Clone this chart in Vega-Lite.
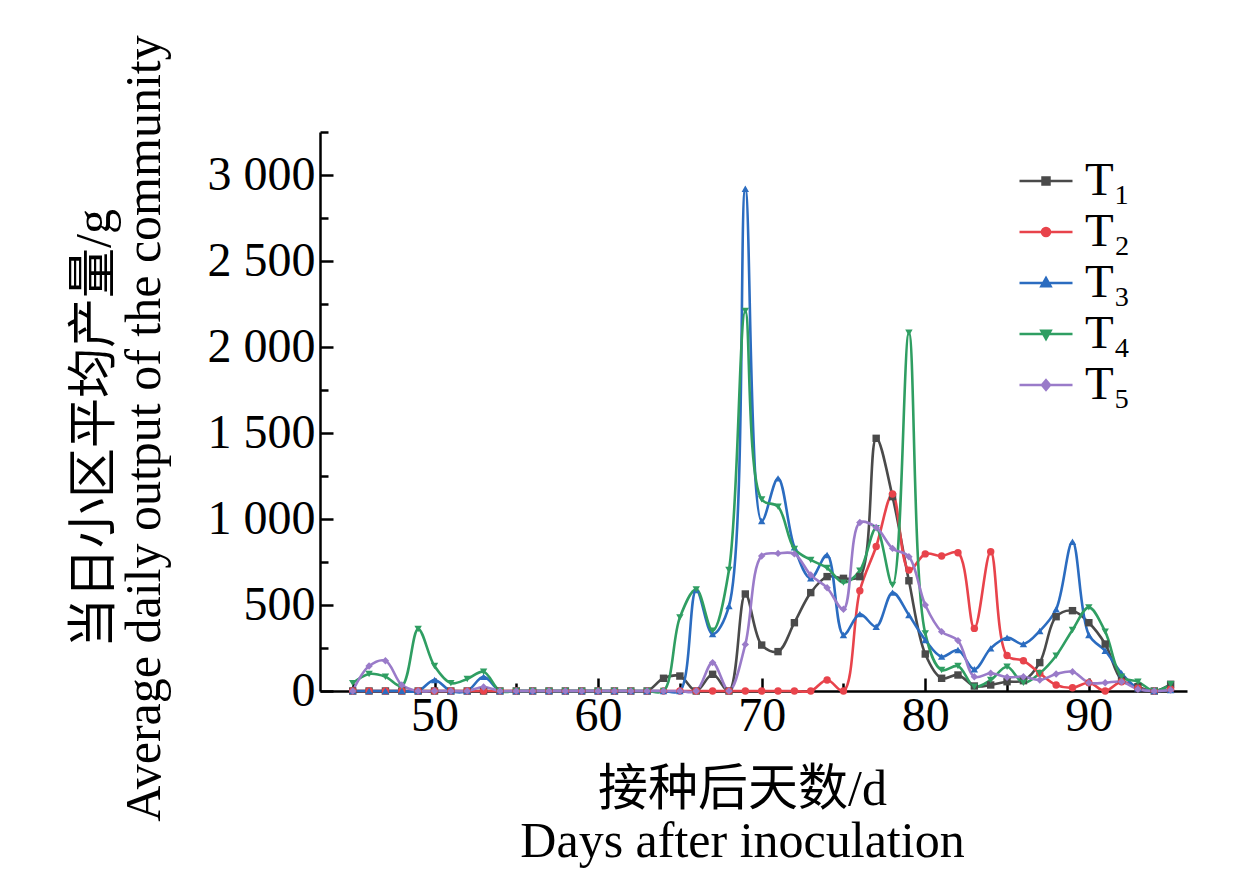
{
"$schema": "https://vega.github.io/schema/vega-lite/v6.json",
"width": 867, "height": 559,
"autosize": {"type": "none"},
"padding": {"left": 320, "top": 132, "right": 73, "bottom": 179},
"background": "white",
"datasets": {"t": [
{"d":45,"s":"T1","v":0},{"d":46,"s":"T1","v":0},{"d":47,"s":"T1","v":0},{"d":48,"s":"T1","v":0},{"d":49,"s":"T1","v":0},{"d":50,"s":"T1","v":0},{"d":51,"s":"T1","v":0},{"d":52,"s":"T1","v":0},{"d":53,"s":"T1","v":0},{"d":54,"s":"T1","v":0},{"d":55,"s":"T1","v":0},{"d":56,"s":"T1","v":0},{"d":57,"s":"T1","v":0},{"d":58,"s":"T1","v":0},{"d":59,"s":"T1","v":0},{"d":60,"s":"T1","v":0},{"d":61,"s":"T1","v":0},{"d":62,"s":"T1","v":0},{"d":63,"s":"T1","v":0},{"d":64,"s":"T1","v":74},{"d":65,"s":"T1","v":87},{"d":66,"s":"T1","v":0},{"d":67,"s":"T1","v":97},{"d":68,"s":"T1","v":0},{"d":69,"s":"T1","v":564},{"d":70,"s":"T1","v":267},{"d":71,"s":"T1","v":229},{"d":72,"s":"T1","v":397},{"d":73,"s":"T1","v":572},{"d":74,"s":"T1","v":665},{"d":75,"s":"T1","v":655},{"d":76,"s":"T1","v":665},{"d":77,"s":"T1","v":1469},{"d":78,"s":"T1","v":1130},{"d":79,"s":"T1","v":641},{"d":80,"s":"T1","v":215},{"d":81,"s":"T1","v":74},{"d":82,"s":"T1","v":93},{"d":83,"s":"T1","v":29},{"d":84,"s":"T1","v":35},{"d":85,"s":"T1","v":54},{"d":86,"s":"T1","v":60},{"d":87,"s":"T1","v":165},{"d":88,"s":"T1","v":432},{"d":89,"s":"T1","v":467},{"d":90,"s":"T1","v":397},{"d":91,"s":"T1","v":273},{"d":92,"s":"T1","v":64},{"d":93,"s":"T1","v":25},{"d":94,"s":"T1","v":0},{"d":95,"s":"T1","v":39},
{"d":45,"s":"T2","v":0},{"d":46,"s":"T2","v":0},{"d":47,"s":"T2","v":0},{"d":48,"s":"T2","v":0},{"d":49,"s":"T2","v":0},{"d":50,"s":"T2","v":0},{"d":51,"s":"T2","v":0},{"d":52,"s":"T2","v":0},{"d":53,"s":"T2","v":0},{"d":54,"s":"T2","v":0},{"d":55,"s":"T2","v":0},{"d":56,"s":"T2","v":0},{"d":57,"s":"T2","v":0},{"d":58,"s":"T2","v":0},{"d":59,"s":"T2","v":0},{"d":60,"s":"T2","v":0},{"d":61,"s":"T2","v":0},{"d":62,"s":"T2","v":0},{"d":63,"s":"T2","v":0},{"d":64,"s":"T2","v":0},{"d":65,"s":"T2","v":0},{"d":66,"s":"T2","v":0},{"d":67,"s":"T2","v":0},{"d":68,"s":"T2","v":0},{"d":69,"s":"T2","v":0},{"d":70,"s":"T2","v":0},{"d":71,"s":"T2","v":0},{"d":72,"s":"T2","v":0},{"d":73,"s":"T2","v":0},{"d":74,"s":"T2","v":64},{"d":75,"s":"T2","v":0},{"d":76,"s":"T2","v":583},{"d":77,"s":"T2","v":840},{"d":78,"s":"T2","v":1145},{"d":79,"s":"T2","v":703},{"d":80,"s":"T2","v":797},{"d":81,"s":"T2","v":785},{"d":82,"s":"T2","v":804},{"d":83,"s":"T2","v":364},{"d":84,"s":"T2","v":810},{"d":85,"s":"T2","v":206},{"d":86,"s":"T2","v":176},{"d":87,"s":"T2","v":103},{"d":88,"s":"T2","v":35},{"d":89,"s":"T2","v":19},{"d":90,"s":"T2","v":48},{"d":91,"s":"T2","v":0},{"d":92,"s":"T2","v":54},{"d":93,"s":"T2","v":16},{"d":94,"s":"T2","v":0},{"d":95,"s":"T2","v":10},
{"d":45,"s":"T3","v":0},{"d":46,"s":"T3","v":0},{"d":47,"s":"T3","v":0},{"d":48,"s":"T3","v":0},{"d":49,"s":"T3","v":0},{"d":50,"s":"T3","v":64},{"d":51,"s":"T3","v":0},{"d":52,"s":"T3","v":0},{"d":53,"s":"T3","v":83},{"d":54,"s":"T3","v":0},{"d":55,"s":"T3","v":0},{"d":56,"s":"T3","v":0},{"d":57,"s":"T3","v":0},{"d":58,"s":"T3","v":0},{"d":59,"s":"T3","v":0},{"d":60,"s":"T3","v":0},{"d":61,"s":"T3","v":0},{"d":62,"s":"T3","v":0},{"d":63,"s":"T3","v":0},{"d":64,"s":"T3","v":0},{"d":65,"s":"T3","v":0},{"d":66,"s":"T3","v":587},{"d":67,"s":"T3","v":331},{"d":68,"s":"T3","v":494},{"d":69,"s":"T3","v":2920},{"d":70,"s":"T3","v":988},{"d":71,"s":"T3","v":1236},{"d":72,"s":"T3","v":835},{"d":73,"s":"T3","v":655},{"d":74,"s":"T3","v":791},{"d":75,"s":"T3","v":326},{"d":76,"s":"T3","v":447},{"d":77,"s":"T3","v":374},{"d":78,"s":"T3","v":572},{"d":79,"s":"T3","v":442},{"d":80,"s":"T3","v":297},{"d":81,"s":"T3","v":200},{"d":82,"s":"T3","v":238},{"d":83,"s":"T3","v":126},{"d":84,"s":"T3","v":248},{"d":85,"s":"T3","v":310},{"d":86,"s":"T3","v":273},{"d":87,"s":"T3","v":349},{"d":88,"s":"T3","v":475},{"d":89,"s":"T3","v":868},{"d":90,"s":"T3","v":326},{"d":91,"s":"T3","v":234},{"d":92,"s":"T3","v":103},{"d":93,"s":"T3","v":16},{"d":94,"s":"T3","v":0},{"d":95,"s":"T3","v":6},
{"d":45,"s":"T4","v":46},{"d":46,"s":"T4","v":99},{"d":47,"s":"T4","v":83},{"d":48,"s":"T4","v":29},{"d":49,"s":"T4","v":360},{"d":50,"s":"T4","v":145},{"d":51,"s":"T4","v":46},{"d":52,"s":"T4","v":70},{"d":53,"s":"T4","v":112},{"d":54,"s":"T4","v":0},{"d":55,"s":"T4","v":0},{"d":56,"s":"T4","v":0},{"d":57,"s":"T4","v":0},{"d":58,"s":"T4","v":0},{"d":59,"s":"T4","v":0},{"d":60,"s":"T4","v":0},{"d":61,"s":"T4","v":0},{"d":62,"s":"T4","v":0},{"d":63,"s":"T4","v":0},{"d":64,"s":"T4","v":0},{"d":65,"s":"T4","v":428},{"d":66,"s":"T4","v":591},{"d":67,"s":"T4","v":351},{"d":68,"s":"T4","v":703},{"d":69,"s":"T4","v":2210},{"d":70,"s":"T4","v":1114},{"d":71,"s":"T4","v":1072},{"d":72,"s":"T4","v":826},{"d":73,"s":"T4","v":762},{"d":74,"s":"T4","v":715},{"d":75,"s":"T4","v":630},{"d":76,"s":"T4","v":700},{"d":77,"s":"T4","v":946},{"d":78,"s":"T4","v":616},{"d":79,"s":"T4","v":2083},{"d":80,"s":"T4","v":335},{"d":81,"s":"T4","v":122},{"d":82,"s":"T4","v":145},{"d":83,"s":"T4","v":25},{"d":84,"s":"T4","v":64},{"d":85,"s":"T4","v":141},{"d":86,"s":"T4","v":48},{"d":87,"s":"T4","v":103},{"d":88,"s":"T4","v":205},{"d":89,"s":"T4","v":355},{"d":90,"s":"T4","v":486},{"d":91,"s":"T4","v":345},{"d":92,"s":"T4","v":83},{"d":93,"s":"T4","v":54},{"d":94,"s":"T4","v":0},{"d":95,"s":"T4","v":39},
{"d":45,"s":"T5","v":0},{"d":46,"s":"T5","v":145},{"d":47,"s":"T5","v":176},{"d":48,"s":"T5","v":35},{"d":49,"s":"T5","v":0},{"d":50,"s":"T5","v":0},{"d":51,"s":"T5","v":0},{"d":52,"s":"T5","v":0},{"d":53,"s":"T5","v":23},{"d":54,"s":"T5","v":0},{"d":55,"s":"T5","v":0},{"d":56,"s":"T5","v":0},{"d":57,"s":"T5","v":0},{"d":58,"s":"T5","v":0},{"d":59,"s":"T5","v":0},{"d":60,"s":"T5","v":0},{"d":61,"s":"T5","v":0},{"d":62,"s":"T5","v":0},{"d":63,"s":"T5","v":0},{"d":64,"s":"T5","v":0},{"d":65,"s":"T5","v":0},{"d":66,"s":"T5","v":0},{"d":67,"s":"T5","v":165},{"d":68,"s":"T5","v":0},{"d":69,"s":"T5","v":271},{"d":70,"s":"T5","v":785},{"d":71,"s":"T5","v":800},{"d":72,"s":"T5","v":797},{"d":73,"s":"T5","v":674},{"d":74,"s":"T5","v":600},{"d":75,"s":"T5","v":475},{"d":76,"s":"T5","v":980},{"d":77,"s":"T5","v":951},{"d":78,"s":"T5","v":829},{"d":79,"s":"T5","v":781},{"d":80,"s":"T5","v":500},{"d":81,"s":"T5","v":345},{"d":82,"s":"T5","v":293},{"d":83,"s":"T5","v":83},{"d":84,"s":"T5","v":103},{"d":85,"s":"T5","v":80},{"d":86,"s":"T5","v":83},{"d":87,"s":"T5","v":64},{"d":88,"s":"T5","v":99},{"d":89,"s":"T5","v":112},{"d":90,"s":"T5","v":48},{"d":91,"s":"T5","v":48},{"d":92,"s":"T5","v":54},{"d":93,"s":"T5","v":10},{"d":94,"s":"T5","v":0},{"d":95,"s":"T5","v":6}
]},
"data": {"name": "t"},
"encoding": {
  "x": {"field": "d", "type": "quantitative",
    "scale": {"domain": [43, 96], "nice": false, "zero": false},
    "axis": {"values": [45,50,55,60,65,70,75,80,85,90,95],
      "labelExpr": "datum.value % 10 === 0 ? datum.label : ''",
      "tickSize": {"condition": {"test": "datum.value % 10 === 0", "value": -13}, "value": -8},
      "labelPadding": 14, "titlePadding": 24, "titleX": 422, "titleLineHeight": 52,
      "title": ["接种后天数/d", "Days after inoculation"]}},
  "y": {"field": "v", "type": "quantitative",
    "scale": {"domain": [0, 3250], "nice": false},
    "axis": {"values": [0,250,500,750,1000,1250,1500,1750,2000,2250,2500,2750,3000,3250],
      "labelExpr": "datum.value % 500 === 0 ? replace(format(datum.value, ','), ',', ' ') : ''",
      "tickSize": {"condition": {"test": "datum.value % 500 === 0", "value": -13}, "value": -8},
      "labelPadding": 18, "titlePadding": 38, "titleY": 296, "titleLineHeight": 50,
      "title": ["当日小区平均产量/g", "Average daily output of the community"]}}
},
"layer": [
  {"mark": {"type": "line", "interpolate": "catmull-rom", "strokeWidth": 2.6},
   "encoding": {"color": {"field": "s", "type": "nominal",
     "scale": {"domain": ["T1","T2","T3","T4","T5"], "range": ["#4a4a4a","#e8434b","#2b6cc0","#2f9e62","#9a7bc9"]},
     "legend": null}}},
  {"mark": {"type": "point", "filled": true, "opacity": 1, "size": 55},
   "encoding": {"color": {"field": "s", "type": "nominal", "legend": null},
     "shape": {"condition": [
        {"test": "datum.s === 'T1'", "value": "square"},
        {"test": "datum.s === 'T2'", "value": "circle"},
        {"test": "datum.s === 'T3'", "value": "triangle-up"},
        {"test": "datum.s === 'T4'", "value": "triangle-down"}], "value": "diamond"}}},
  {"mark": {"type": "point", "filled": true, "size": 0},
   "encoding": {
     "fill": {"field": "s", "type": "nominal",
       "scale": {"range": ["#4a4a4a","#e8434b","#2b6cc0","#2f9e62","#9a7bc9"]},
       "legend": {"orient": "none", "legendX": 698, "legendY": 21, "title": null,
         "symbolSize": 2809, "symbolStrokeWidth": 2.6, "symbolOpacity": 1, "labelFontSize": 47, "labelOffset": 11, "padding": 0, "rowPadding": -7,
         "labelExpr": "datum.value === 'T1' ? 'T₁' : datum.value === 'T2' ? 'T₂' : datum.value === 'T3' ? 'T₃' : datum.value === 'T4' ? 'T₄' : 'T₅'"}},
     "stroke": {"field": "s", "type": "nominal",
       "scale": {"range": ["#4a4a4a","#e8434b","#2b6cc0","#2f9e62","#9a7bc9"]}},
     "shape": {"field": "s", "type": "nominal",
       "scale": {"range": [
         "M-1,0H1M-0.13,-0.13H0.13V0.13H-0.13Z",
         "M-1,0H1M-0.15,0A0.15,0.15,0,1,0,0.15,0A0.15,0.15,0,1,0,-0.15,0Z",
         "M-1,0H1M0,-0.18L0.17,0.12L-0.17,0.12Z",
         "M-1,0H1M0,0.18L0.17,-0.12L-0.17,-0.12Z",
         "M-1,0H1M0,-0.18L0.15,0L0,0.18L-0.15,0Z"]}}}}
],
"config": {
  "font": "'Liberation Serif', 'Noto Sans CJK SC', serif",
  "view": {"stroke": null},
  "axis": {"grid": false, "domainColor": "black", "domainWidth": 2.5, "tickColor": "black", "tickWidth": 2.5,
    "labelFont": "'Liberation Serif', 'Noto Sans CJK SC', serif", "labelFontSize": 48, "labelColor": "black",
    "titleFont": "'Liberation Serif', 'Noto Sans CJK SC', serif", "titleFontSize": 50, "titleFontWeight": "normal", "titleColor": "black"},
  "legend": {"labelFont": "'Liberation Serif', 'Noto Sans CJK SC', serif", "labelColor": "black", "symbolStrokeWidth": 2.6, "symbolOpacity": 1}
}
}
